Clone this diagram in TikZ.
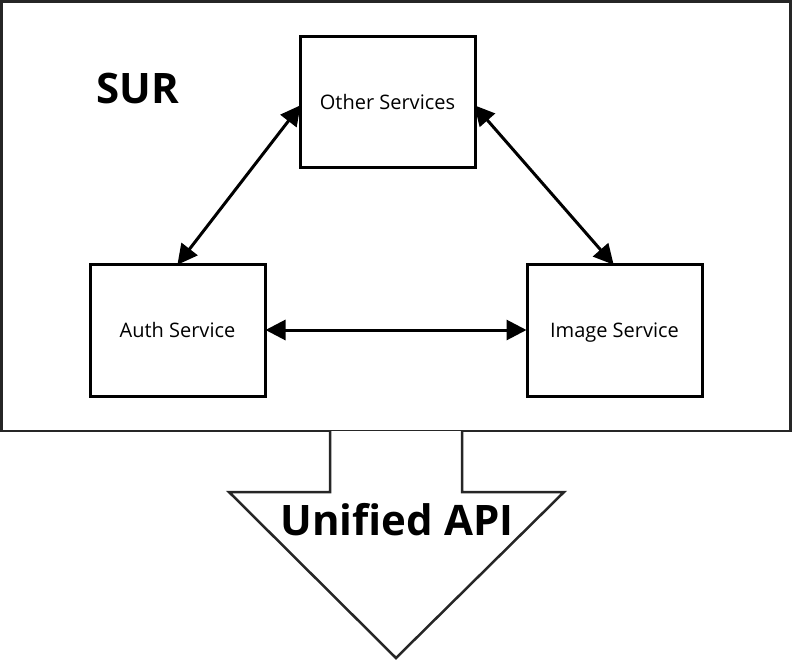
\documentclass[tikz,border=0pt]{standalone}
\usepackage{fontspec}
\setmainfont{Open Sans}
\usetikzlibrary{arrows.meta}
\begin{document}
\begin{tikzpicture}[x=1pt,y=-1pt,
  svc/.style={draw=black,line width=3pt,fill=white,minimum width=175pt,minimum height=132pt,inner sep=0pt,text height=18pt,text depth=4pt,font=\fontsize{20}{24}\selectfont},
  link/.style={line width=3pt,{Triangle[length=20pt,width=20pt]}-{Triangle[length=20pt,width=20pt]},shorten <=-1pt,shorten >=-1pt},
  big/.style={font=\fontsize{42}{48}\selectfont\bfseries}]
\useasboundingbox (0,0) rectangle (792,661);
\draw[draw=black!85,line width=2.5pt,fill=white] (1.5,1.5) rectangle (790.5,431);
\node[big] (sur) at (138,88) {SUR};
\node[svc,minimum height=130pt] (other) at (387.5,102) {Other Services};
\node[svc] (auth) at (177.5,330) {Auth Service};
\node[svc] (image) at (614.5,330) {Image Service};
\coordinate (ol) at (300,106);
\coordinate (or) at (475,106);
\coordinate (at) at (178,264);
\coordinate (it) at (613,264);
\draw[link] (auth.east) -- (image.west);
\draw[link] (ol) -- (at);
\draw[link] (or) -- (it);
\draw[draw=black!85,line width=2.5pt,fill=white] (330,431) -- (330,492) -- (229,492) -- (396,658) -- (564,492) -- (462,492) -- (462,431);
\node[big] (api) at (397,520) {Unified API};
\end{tikzpicture}
\end{document}
